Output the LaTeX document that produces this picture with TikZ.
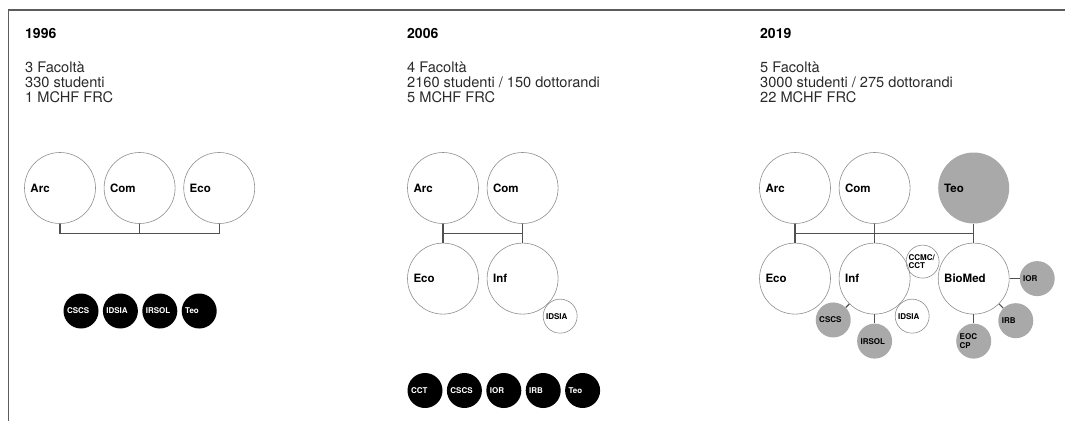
\documentclass[tikz,border=0pt]{standalone}
\usepackage{fontspec}
\setmainfont{TeX Gyre Heros}
\usepackage{xcolor}
\usetikzlibrary{positioning, calc}

\definecolor{framegray}{HTML}{5C5C5C}
\definecolor{ringgray}{HTML}{8E8E8E}
\definecolor{linkgray}{HTML}{505050}
\definecolor{newgray}{HTML}{A9A9A9}
\definecolor{textgray}{HTML}{2A2A2A}

\tikzset{
  fac/.style={circle, draw=ringgray, line width=0.6pt, minimum size=71pt, inner sep=0pt,
    text width=59pt, align=left, font=\bfseries\fontsize{11.5}{12}\selectfont},
  newfac/.style={fac, draw=none, fill=newgray},
  inst/.style={circle, minimum size=35pt, inner sep=0pt, text width=28pt, align=left,
    font=\bfseries\fontsize{8}{8.6}\selectfont},
  oldinst/.style={inst, fill=black, text=white},
  newinst/.style={inst, fill=newgray},
  partner/.style={inst, minimum size=34pt, draw=ringgray, line width=0.6pt},
  link/.style={draw=linkgray, line width=1.2pt},
  year/.style={anchor=base west, inner sep=0pt, font=\bfseries\fontsize{14}{15}\selectfont},
  facts/.style={anchor=north west, inner sep=0pt, align=left, text=textgray,
    font=\fontsize{14.6}{15}\selectfont}
}

\begin{document}
\begin{tikzpicture}[x=1pt, y=-1pt]
  \useasboundingbox (0,0) rectangle (1065,421);
  \draw[framegray, line width=1.2pt] (1065,10) -- (8.5,10) -- (8.5,421);

  % 1996
  \node[year] (y96) at (25,38.5) {1996};
  \node[facts] (f96) at (25,62) {3 Facoltà\\330 studenti\\1 MCHF FRC};
  \node[fac] (arc96) at (60,188) {Arc};
  \node[fac] (com96) [right=8pt of arc96] {Com};
  \node[fac] (eco96) [right=8pt of com96] {Eco};
  \draw[link] (arc96.south) -- ++(0,10) -| (eco96.south);
  \draw[link] (com96.south) -- ++(0,10);
  \node[oldinst] (cscs96) at (81,311) {CSCS};
  \node[oldinst] (idsia96) [right=4pt of cscs96] {IDSIA};
  \node[oldinst] (irsol96) [right=4pt of idsia96] {IRSOL};
  \node[oldinst] (teo96) [right=4pt of irsol96] {Teo};

  % 2006
  \node[year] (y06) at (407,38.5) {2006};
  \node[facts] (f06) at (407,62) {4 Facoltà\\2160 studenti / 150 dottorandi\\5 MCHF FRC};
  \node[fac] (arc06) at (443,188) {Arc};
  \node[fac] (com06) [right=8pt of arc06] {Com};
  \node[fac] (eco06) [below=19pt of arc06] {Eco};
  \node[fac] (inf06) [below=19pt of com06] {Inf};
  \node[partner] (idsia06) [below right=0pt of inf06] {IDSIA};
  \draw[link] (arc06) -- (eco06);
  \draw[link] (com06) -- (inf06);
  \draw[link] ($(arc06.south)!.5!(eco06.north)$) -- ($(com06.south)!.5!(inf06.north)$);
  \node[oldinst] (cct06) at (425,390.5) {CCT};
  \node[oldinst] (cscs06) [right=4pt of cct06] {CSCS};
  \node[oldinst] (ior06) [right=4pt of cscs06] {IOR};
  \node[oldinst] (irb06) [right=4pt of ior06] {IRB};
  \node[oldinst] (teo06) [right=4pt of irb06] {Teo};

  % 2019
  \node[year] (y19) at (760,38.5) {2019};
  \node[facts] (f19) at (760,62) {5 Facoltà\\3000 studenti / 275 dottorandi\\22 MCHF FRC};
  \node[fac] (arc19) at (795,188) {Arc};
  \node[fac] (com19) [right=8pt of arc19] {Com};
  \node[newfac] (teo19) [right=27.5pt of com19] {Teo};
  \node[fac] (eco19) [below=19pt of arc19] {Eco};
  \node[fac] (inf19) [below=19pt of com19] {Inf};
  \node[fac] (bio19) [below=19pt of teo19] {BioMed};
  \draw[link] (arc19) -- (eco19);
  \draw[link] (com19) -- (inf19);
  \draw[link] (teo19) -- (bio19);
  \draw[link] ($(arc19.south)!.5!(eco19.north)$) -- ($(teo19.south)!.5!(bio19.north)$);
  \node[partner, minimum size=33pt] (ccmc19) at ($(inf19)+(48,-17)$) {CCMC/\\CCT};
  \node[partner] (idsia19) [below right=0pt of inf19] {IDSIA};
  \node[newinst] (cscs19) [below left=5pt of inf19] {CSCS};
  \node[newinst] (irsol19) [below=9pt of inf19] {IRSOL};
  \node[newinst] (eoc19) [below=9pt of bio19] {EOC\\CP};
  \node[newinst] (irb19) [below right=6pt of bio19] {IRB};
  \node[newinst] (ior19) [right=10pt of bio19] {IOR};
  \draw[link] (inf19) -- (cscs19);
  \draw[link] (inf19) -- (irsol19);
  \draw[link] (bio19) -- (eoc19);
  \draw[link] (bio19) -- (irb19);
  \draw[link] (bio19) -- (ior19);
\end{tikzpicture}
\end{document}
